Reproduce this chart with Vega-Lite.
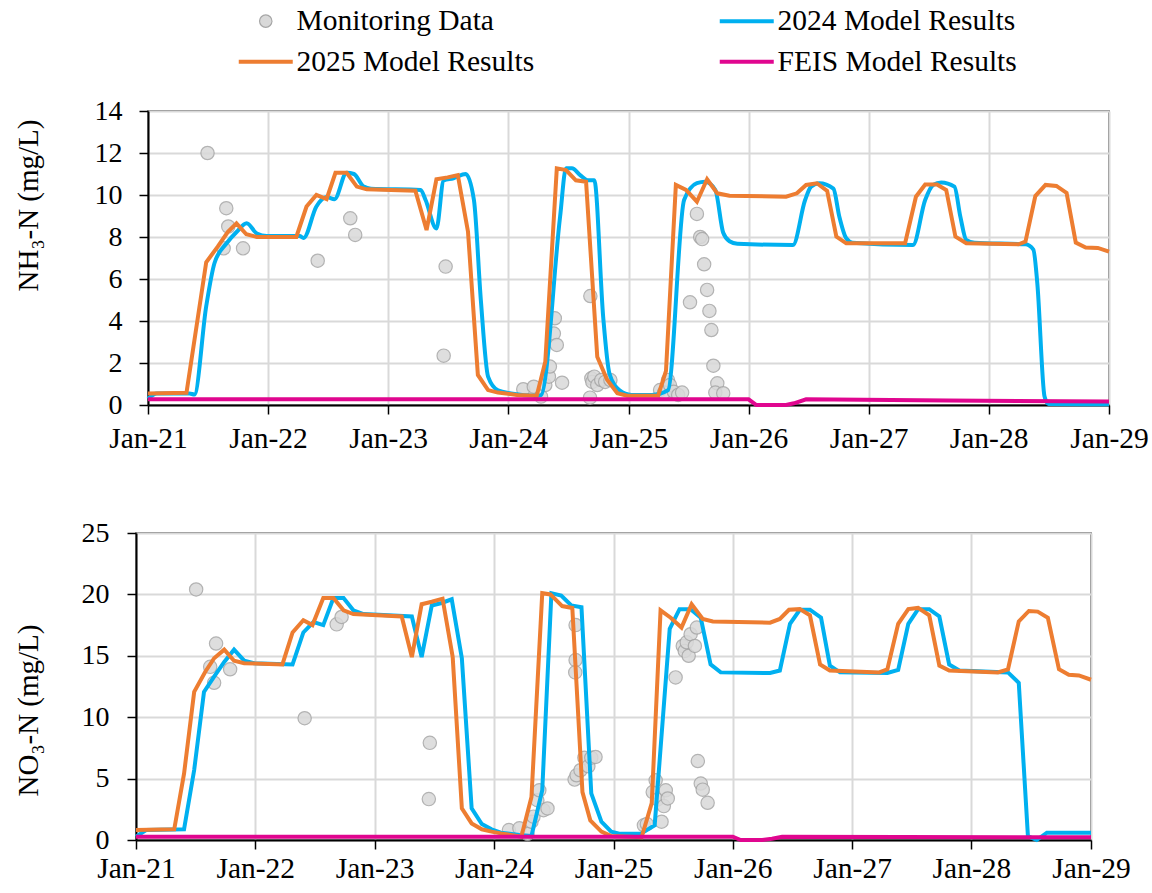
{
  "$schema": "https://vega.github.io/schema/vega-lite/v6.json",
  "padding": {"left": 6, "top": 6, "right": 0, "bottom": 0},
  "background": "white",
  "config": {
    "font": "Liberation Serif",
    "view": {"stroke": "#404040", "strokeWidth": 1.5},
    "axis": {
      "labelFont": "Liberation Serif", "labelFontSize": 28, "labelColor": "black",
      "titleFont": "Liberation Serif", "titleFontSize": 29, "titleFontWeight": "normal", "titleColor": "black",
      "domainColor": "black", "domainWidth": 2, "tickColor": "black", "tickWidth": 1.5, "tickSize": 9,
      "gridColor": "#d9d9d9", "gridWidth": 2
    },
    "legend": {"labelFont": "Liberation Serif", "labelFontSize": 29.5, "labelColor": "black", "labelLimit": 500}
  },
  "datasets": {
    "nh": [
      {"s": "2024 Model Results", "d": "2021-01-01", "v": 0.3},
      {"s": "2024 Model Results", "d": "2021-01-28", "v": 0.55},
      {"s": "2024 Model Results", "d": "2021-05-07", "v": 0.55},
      {"s": "2024 Model Results", "d": "2021-05-22", "v": 0.5},
      {"s": "2024 Model Results", "d": "2021-06-27", "v": 4.7},
      {"s": "2024 Model Results", "d": "2021-07-22", "v": 6.75},
      {"s": "2024 Model Results", "d": "2021-08-28", "v": 7.7},
      {"s": "2024 Model Results", "d": "2021-09-28", "v": 8.25},
      {"s": "2024 Model Results", "d": "2021-10-28", "v": 8.65},
      {"s": "2024 Model Results", "d": "2021-11-28", "v": 8.17},
      {"s": "2024 Model Results", "d": "2021-12-28", "v": 8.05},
      {"s": "2024 Model Results", "d": "2022-04-07", "v": 8.05},
      {"s": "2024 Model Results", "d": "2022-04-19", "v": 7.95},
      {"s": "2024 Model Results", "d": "2022-05-28", "v": 9.45},
      {"s": "2024 Model Results", "d": "2022-06-28", "v": 9.9},
      {"s": "2024 Model Results", "d": "2022-07-22", "v": 9.8},
      {"s": "2024 Model Results", "d": "2022-08-28", "v": 11.06},
      {"s": "2024 Model Results", "d": "2022-09-19", "v": 11.0},
      {"s": "2024 Model Results", "d": "2022-10-19", "v": 10.4},
      {"s": "2024 Model Results", "d": "2022-11-10", "v": 10.3},
      {"s": "2024 Model Results", "d": "2023-04-10", "v": 10.24},
      {"s": "2024 Model Results", "d": "2023-04-25", "v": 9.76},
      {"s": "2024 Model Results", "d": "2023-05-28", "v": 8.4},
      {"s": "2024 Model Results", "d": "2023-06-19", "v": 10.7},
      {"s": "2024 Model Results", "d": "2023-07-19", "v": 10.8},
      {"s": "2024 Model Results", "d": "2023-08-25", "v": 11.0},
      {"s": "2024 Model Results", "d": "2023-09-19", "v": 9.76},
      {"s": "2024 Model Results", "d": "2023-10-10", "v": 5.0},
      {"s": "2024 Model Results", "d": "2023-11-01", "v": 1.35},
      {"s": "2024 Model Results", "d": "2023-12-01", "v": 0.7},
      {"s": "2024 Model Results", "d": "2024-01-10", "v": 0.55},
      {"s": "2024 Model Results", "d": "2024-03-28", "v": 0.44},
      {"s": "2024 Model Results", "d": "2024-04-10", "v": 0.47},
      {"s": "2024 Model Results", "d": "2024-06-07", "v": 8.97},
      {"s": "2024 Model Results", "d": "2024-06-25", "v": 11.27},
      {"s": "2024 Model Results", "d": "2024-07-13", "v": 11.27},
      {"s": "2024 Model Results", "d": "2024-08-07", "v": 10.95},
      {"s": "2024 Model Results", "d": "2024-09-01", "v": 10.7},
      {"s": "2024 Model Results", "d": "2024-09-19", "v": 10.7},
      {"s": "2024 Model Results", "d": "2024-10-16", "v": 4.2},
      {"s": "2024 Model Results", "d": "2024-11-04", "v": 1.5},
      {"s": "2024 Model Results", "d": "2024-12-04", "v": 0.71},
      {"s": "2024 Model Results", "d": "2025-01-10", "v": 0.48},
      {"s": "2024 Model Results", "d": "2025-03-13", "v": 0.48},
      {"s": "2024 Model Results", "d": "2025-05-01", "v": 0.7},
      {"s": "2024 Model Results", "d": "2025-06-19", "v": 9.76},
      {"s": "2024 Model Results", "d": "2025-07-28", "v": 10.56},
      {"s": "2024 Model Results", "d": "2025-08-22", "v": 10.63},
      {"s": "2024 Model Results", "d": "2025-09-22", "v": 10.24},
      {"s": "2024 Model Results", "d": "2025-10-16", "v": 8.2},
      {"s": "2024 Model Results", "d": "2025-11-04", "v": 7.8},
      {"s": "2024 Model Results", "d": "2025-11-28", "v": 7.68},
      {"s": "2024 Model Results", "d": "2026-05-16", "v": 7.62},
      {"s": "2024 Model Results", "d": "2026-06-22", "v": 9.76},
      {"s": "2024 Model Results", "d": "2026-07-10", "v": 10.4},
      {"s": "2024 Model Results", "d": "2026-08-04", "v": 10.56},
      {"s": "2024 Model Results", "d": "2026-09-16", "v": 10.3},
      {"s": "2024 Model Results", "d": "2026-10-04", "v": 8.97},
      {"s": "2024 Model Results", "d": "2026-10-25", "v": 7.94},
      {"s": "2024 Model Results", "d": "2026-11-13", "v": 7.73},
      {"s": "2024 Model Results", "d": "2027-05-16", "v": 7.62},
      {"s": "2024 Model Results", "d": "2027-06-22", "v": 9.76},
      {"s": "2024 Model Results", "d": "2027-07-16", "v": 10.48},
      {"s": "2024 Model Results", "d": "2027-08-10", "v": 10.6},
      {"s": "2024 Model Results", "d": "2027-09-19", "v": 10.4},
      {"s": "2024 Model Results", "d": "2027-10-07", "v": 8.97},
      {"s": "2024 Model Results", "d": "2027-10-25", "v": 7.86},
      {"s": "2024 Model Results", "d": "2027-11-19", "v": 7.73},
      {"s": "2024 Model Results", "d": "2028-04-22", "v": 7.65},
      {"s": "2024 Model Results", "d": "2028-05-16", "v": 7.4},
      {"s": "2024 Model Results", "d": "2028-05-28", "v": 5.8},
      {"s": "2024 Model Results", "d": "2028-06-19", "v": 0.4},
      {"s": "2024 Model Results", "d": "2028-07-01", "v": 0.05},
      {"s": "2024 Model Results", "d": "2029-01-01", "v": 0.03},
      {"s": "2025 Model Results", "d": "2021-01-01", "v": 0.55},
      {"s": "2025 Model Results", "d": "2021-04-28", "v": 0.58},
      {"s": "2025 Model Results", "d": "2021-06-27", "v": 6.8},
      {"s": "2025 Model Results", "d": "2021-08-01", "v": 7.54},
      {"s": "2025 Model Results", "d": "2021-09-01", "v": 8.25},
      {"s": "2025 Model Results", "d": "2021-09-27", "v": 8.65},
      {"s": "2025 Model Results", "d": "2021-10-27", "v": 8.13},
      {"s": "2025 Model Results", "d": "2021-11-28", "v": 8.0},
      {"s": "2025 Model Results", "d": "2022-03-28", "v": 8.0},
      {"s": "2025 Model Results", "d": "2022-04-28", "v": 9.45},
      {"s": "2025 Model Results", "d": "2022-05-28", "v": 10.0},
      {"s": "2025 Model Results", "d": "2022-06-28", "v": 9.8},
      {"s": "2025 Model Results", "d": "2022-07-25", "v": 11.06},
      {"s": "2025 Model Results", "d": "2022-08-28", "v": 11.06},
      {"s": "2025 Model Results", "d": "2022-09-28", "v": 10.4},
      {"s": "2025 Model Results", "d": "2022-10-28", "v": 10.27},
      {"s": "2025 Model Results", "d": "2023-03-25", "v": 10.2},
      {"s": "2025 Model Results", "d": "2023-04-28", "v": 8.33},
      {"s": "2025 Model Results", "d": "2023-05-28", "v": 10.75},
      {"s": "2025 Model Results", "d": "2023-07-01", "v": 10.84},
      {"s": "2025 Model Results", "d": "2023-08-01", "v": 10.95},
      {"s": "2025 Model Results", "d": "2023-09-01", "v": 8.25},
      {"s": "2025 Model Results", "d": "2023-10-01", "v": 1.43},
      {"s": "2025 Model Results", "d": "2023-11-01", "v": 0.71},
      {"s": "2025 Model Results", "d": "2023-12-01", "v": 0.59},
      {"s": "2025 Model Results", "d": "2024-01-28", "v": 0.48},
      {"s": "2025 Model Results", "d": "2024-03-28", "v": 0.44},
      {"s": "2025 Model Results", "d": "2024-04-23", "v": 2.06},
      {"s": "2025 Model Results", "d": "2024-05-28", "v": 11.27},
      {"s": "2025 Model Results", "d": "2024-06-25", "v": 11.19},
      {"s": "2025 Model Results", "d": "2024-07-25", "v": 10.7},
      {"s": "2025 Model Results", "d": "2024-08-25", "v": 10.63},
      {"s": "2025 Model Results", "d": "2024-09-28", "v": 2.3},
      {"s": "2025 Model Results", "d": "2024-10-28", "v": 1.2},
      {"s": "2025 Model Results", "d": "2024-11-28", "v": 0.56},
      {"s": "2025 Model Results", "d": "2024-12-28", "v": 0.44},
      {"s": "2025 Model Results", "d": "2025-04-01", "v": 0.44},
      {"s": "2025 Model Results", "d": "2025-04-25", "v": 1.63},
      {"s": "2025 Model Results", "d": "2025-05-25", "v": 10.48},
      {"s": "2025 Model Results", "d": "2025-06-25", "v": 10.24},
      {"s": "2025 Model Results", "d": "2025-07-28", "v": 9.68},
      {"s": "2025 Model Results", "d": "2025-08-28", "v": 10.75},
      {"s": "2025 Model Results", "d": "2025-09-28", "v": 10.08},
      {"s": "2025 Model Results", "d": "2025-11-04", "v": 9.97},
      {"s": "2025 Model Results", "d": "2026-04-25", "v": 9.92},
      {"s": "2025 Model Results", "d": "2026-05-28", "v": 10.08},
      {"s": "2025 Model Results", "d": "2026-06-25", "v": 10.48},
      {"s": "2025 Model Results", "d": "2026-07-28", "v": 10.56},
      {"s": "2025 Model Results", "d": "2026-08-28", "v": 10.2},
      {"s": "2025 Model Results", "d": "2026-09-25", "v": 8.02},
      {"s": "2025 Model Results", "d": "2026-10-25", "v": 7.7},
      {"s": "2025 Model Results", "d": "2027-04-22", "v": 7.7},
      {"s": "2025 Model Results", "d": "2027-05-25", "v": 9.92},
      {"s": "2025 Model Results", "d": "2027-06-22", "v": 10.5},
      {"s": "2025 Model Results", "d": "2027-07-28", "v": 10.5},
      {"s": "2025 Model Results", "d": "2027-08-25", "v": 10.24},
      {"s": "2025 Model Results", "d": "2027-09-22", "v": 8.02},
      {"s": "2025 Model Results", "d": "2027-10-25", "v": 7.7},
      {"s": "2025 Model Results", "d": "2028-04-01", "v": 7.65},
      {"s": "2025 Model Results", "d": "2028-04-22", "v": 7.78},
      {"s": "2025 Model Results", "d": "2028-05-22", "v": 9.95},
      {"s": "2025 Model Results", "d": "2028-06-22", "v": 10.48},
      {"s": "2025 Model Results", "d": "2028-07-25", "v": 10.43},
      {"s": "2025 Model Results", "d": "2028-08-25", "v": 10.1},
      {"s": "2025 Model Results", "d": "2028-09-22", "v": 7.73},
      {"s": "2025 Model Results", "d": "2028-10-22", "v": 7.5},
      {"s": "2025 Model Results", "d": "2028-11-28", "v": 7.48},
      {"s": "2025 Model Results", "d": "2029-01-01", "v": 7.3},
      {"s": "FEIS Model Results", "d": "2021-01-01", "v": 0.27},
      {"s": "FEIS Model Results", "d": "2026-01-01", "v": 0.27},
      {"s": "FEIS Model Results", "d": "2026-01-25", "v": 0.0},
      {"s": "FEIS Model Results", "d": "2026-04-25", "v": 0.0},
      {"s": "FEIS Model Results", "d": "2026-05-19", "v": 0.08},
      {"s": "FEIS Model Results", "d": "2026-06-25", "v": 0.27},
      {"s": "FEIS Model Results", "d": "2027-09-01", "v": 0.21},
      {"s": "FEIS Model Results", "d": "2029-01-01", "v": 0.17}
    ],
    "nho": [
      {"d": "2021-07-01", "v": 12.0},
      {"d": "2021-08-27", "v": 9.37},
      {"d": "2021-09-02", "v": 8.5},
      {"d": "2021-08-19", "v": 7.46},
      {"d": "2021-10-17", "v": 7.46},
      {"d": "2022-06-01", "v": 6.87},
      {"d": "2022-09-08", "v": 8.89},
      {"d": "2022-09-23", "v": 8.1},
      {"d": "2023-06-25", "v": 6.59},
      {"d": "2023-06-19", "v": 2.35},
      {"d": "2024-02-16", "v": 0.75},
      {"d": "2024-03-19", "v": 0.87},
      {"d": "2024-04-10", "v": 0.4},
      {"d": "2024-04-23", "v": 0.95},
      {"d": "2024-05-04", "v": 1.35},
      {"d": "2024-05-07", "v": 1.83},
      {"d": "2024-05-19", "v": 3.4},
      {"d": "2024-05-22", "v": 4.13},
      {"d": "2024-05-28", "v": 2.86},
      {"d": "2024-06-13", "v": 1.06},
      {"d": "2024-09-07", "v": 5.19},
      {"d": "2024-09-06", "v": 0.35},
      {"d": "2024-09-10", "v": 1.27},
      {"d": "2024-09-13", "v": 1.1},
      {"d": "2024-09-19", "v": 1.35},
      {"d": "2024-09-28", "v": 0.95},
      {"d": "2024-10-10", "v": 1.19},
      {"d": "2024-10-22", "v": 1.1},
      {"d": "2024-11-07", "v": 1.19},
      {"d": "2025-04-07", "v": 0.71},
      {"d": "2025-04-19", "v": 0.59},
      {"d": "2025-05-01", "v": 1.19},
      {"d": "2025-05-07", "v": 0.95},
      {"d": "2025-05-19", "v": 0.63},
      {"d": "2025-06-01", "v": 0.48},
      {"d": "2025-06-13", "v": 0.59},
      {"d": "2025-07-07", "v": 4.89},
      {"d": "2025-07-28", "v": 9.1},
      {"d": "2025-08-07", "v": 8.0},
      {"d": "2025-08-13", "v": 7.9},
      {"d": "2025-08-19", "v": 6.7},
      {"d": "2025-08-28", "v": 5.48},
      {"d": "2025-09-04", "v": 4.48},
      {"d": "2025-09-10", "v": 3.57},
      {"d": "2025-09-16", "v": 1.87},
      {"d": "2025-09-28", "v": 1.03},
      {"d": "2025-09-22", "v": 0.59},
      {"d": "2025-10-16", "v": 0.56}
    ],
    "no": [
      {"s": "2024 Model Results", "d": "2021-01-01", "v": 0.27},
      {"s": "2024 Model Results", "d": "2021-02-01", "v": 0.81},
      {"s": "2024 Model Results", "d": "2021-05-28", "v": 0.87},
      {"s": "2024 Model Results", "d": "2021-06-28", "v": 5.7},
      {"s": "2024 Model Results", "d": "2021-07-28", "v": 12.06},
      {"s": "2024 Model Results", "d": "2021-08-28", "v": 13.3},
      {"s": "2024 Model Results", "d": "2021-09-28", "v": 14.5},
      {"s": "2024 Model Results", "d": "2021-10-28", "v": 15.5},
      {"s": "2024 Model Results", "d": "2021-11-28", "v": 14.6},
      {"s": "2024 Model Results", "d": "2021-12-28", "v": 14.4},
      {"s": "2024 Model Results", "d": "2022-04-25", "v": 14.3},
      {"s": "2024 Model Results", "d": "2022-05-28", "v": 16.9},
      {"s": "2024 Model Results", "d": "2022-06-28", "v": 17.75},
      {"s": "2024 Model Results", "d": "2022-07-28", "v": 17.5},
      {"s": "2024 Model Results", "d": "2022-08-28", "v": 19.7},
      {"s": "2024 Model Results", "d": "2022-09-28", "v": 19.7},
      {"s": "2024 Model Results", "d": "2022-10-28", "v": 18.7},
      {"s": "2024 Model Results", "d": "2022-11-28", "v": 18.4},
      {"s": "2024 Model Results", "d": "2023-04-25", "v": 18.2},
      {"s": "2024 Model Results", "d": "2023-05-25", "v": 14.9},
      {"s": "2024 Model Results", "d": "2023-06-25", "v": 19.1},
      {"s": "2024 Model Results", "d": "2023-07-25", "v": 19.3},
      {"s": "2024 Model Results", "d": "2023-08-25", "v": 19.6},
      {"s": "2024 Model Results", "d": "2023-09-25", "v": 14.8},
      {"s": "2024 Model Results", "d": "2023-10-25", "v": 2.57},
      {"s": "2024 Model Results", "d": "2023-11-25", "v": 1.3},
      {"s": "2024 Model Results", "d": "2023-12-25", "v": 0.87},
      {"s": "2024 Model Results", "d": "2024-01-22", "v": 0.6},
      {"s": "2024 Model Results", "d": "2024-03-19", "v": 0.4},
      {"s": "2024 Model Results", "d": "2024-04-25", "v": 0.32},
      {"s": "2024 Model Results", "d": "2024-05-28", "v": 4.05},
      {"s": "2024 Model Results", "d": "2024-06-25", "v": 20.1},
      {"s": "2024 Model Results", "d": "2024-07-25", "v": 19.9},
      {"s": "2024 Model Results", "d": "2024-08-25", "v": 19.1},
      {"s": "2024 Model Results", "d": "2024-09-25", "v": 18.95},
      {"s": "2024 Model Results", "d": "2024-10-25", "v": 3.8},
      {"s": "2024 Model Results", "d": "2024-11-25", "v": 1.5},
      {"s": "2024 Model Results", "d": "2024-12-25", "v": 0.68},
      {"s": "2024 Model Results", "d": "2025-01-22", "v": 0.5},
      {"s": "2024 Model Results", "d": "2025-03-25", "v": 0.5},
      {"s": "2024 Model Results", "d": "2025-05-07", "v": 1.2},
      {"s": "2024 Model Results", "d": "2025-06-22", "v": 17.2},
      {"s": "2024 Model Results", "d": "2025-07-22", "v": 18.8},
      {"s": "2024 Model Results", "d": "2025-08-25", "v": 18.8},
      {"s": "2024 Model Results", "d": "2025-09-25", "v": 18.1},
      {"s": "2024 Model Results", "d": "2025-10-25", "v": 14.3},
      {"s": "2024 Model Results", "d": "2025-11-25", "v": 13.65},
      {"s": "2024 Model Results", "d": "2026-04-25", "v": 13.6},
      {"s": "2024 Model Results", "d": "2026-05-25", "v": 13.8},
      {"s": "2024 Model Results", "d": "2026-06-25", "v": 17.6},
      {"s": "2024 Model Results", "d": "2026-07-25", "v": 18.75},
      {"s": "2024 Model Results", "d": "2026-08-25", "v": 18.75},
      {"s": "2024 Model Results", "d": "2026-09-28", "v": 18.1},
      {"s": "2024 Model Results", "d": "2026-10-25", "v": 14.2},
      {"s": "2024 Model Results", "d": "2026-11-25", "v": 13.65},
      {"s": "2024 Model Results", "d": "2027-04-19", "v": 13.6},
      {"s": "2024 Model Results", "d": "2027-05-22", "v": 13.85},
      {"s": "2024 Model Results", "d": "2027-06-22", "v": 17.6},
      {"s": "2024 Model Results", "d": "2027-07-22", "v": 18.8},
      {"s": "2024 Model Results", "d": "2027-08-25", "v": 18.8},
      {"s": "2024 Model Results", "d": "2027-09-25", "v": 18.2},
      {"s": "2024 Model Results", "d": "2027-10-25", "v": 14.3},
      {"s": "2024 Model Results", "d": "2027-11-25", "v": 13.8},
      {"s": "2024 Model Results", "d": "2028-04-22", "v": 13.65},
      {"s": "2024 Model Results", "d": "2028-05-25", "v": 12.8},
      {"s": "2024 Model Results", "d": "2028-06-22", "v": 0.32},
      {"s": "2024 Model Results", "d": "2028-07-19", "v": 0.0},
      {"s": "2024 Model Results", "d": "2028-08-19", "v": 0.6},
      {"s": "2024 Model Results", "d": "2029-01-01", "v": 0.6},
      {"s": "2025 Model Results", "d": "2021-01-01", "v": 0.81},
      {"s": "2025 Model Results", "d": "2021-04-28", "v": 0.87},
      {"s": "2025 Model Results", "d": "2021-05-28", "v": 5.4},
      {"s": "2025 Model Results", "d": "2021-06-28", "v": 12.06},
      {"s": "2025 Model Results", "d": "2021-08-01", "v": 13.7},
      {"s": "2025 Model Results", "d": "2021-08-28", "v": 14.8},
      {"s": "2025 Model Results", "d": "2021-09-28", "v": 15.5},
      {"s": "2025 Model Results", "d": "2021-10-28", "v": 14.6},
      {"s": "2025 Model Results", "d": "2021-11-28", "v": 14.4},
      {"s": "2025 Model Results", "d": "2022-03-25", "v": 14.3},
      {"s": "2025 Model Results", "d": "2022-04-25", "v": 16.9},
      {"s": "2025 Model Results", "d": "2022-05-28", "v": 17.9},
      {"s": "2025 Model Results", "d": "2022-06-25", "v": 17.5},
      {"s": "2025 Model Results", "d": "2022-07-28", "v": 19.7},
      {"s": "2025 Model Results", "d": "2022-08-28", "v": 19.7},
      {"s": "2025 Model Results", "d": "2022-09-28", "v": 18.7},
      {"s": "2025 Model Results", "d": "2022-10-28", "v": 18.4},
      {"s": "2025 Model Results", "d": "2023-03-25", "v": 18.2},
      {"s": "2025 Model Results", "d": "2023-04-25", "v": 14.9},
      {"s": "2025 Model Results", "d": "2023-05-25", "v": 19.2},
      {"s": "2025 Model Results", "d": "2023-06-25", "v": 19.4},
      {"s": "2025 Model Results", "d": "2023-07-28", "v": 19.65},
      {"s": "2025 Model Results", "d": "2023-08-28", "v": 14.9},
      {"s": "2025 Model Results", "d": "2023-09-25", "v": 2.57},
      {"s": "2025 Model Results", "d": "2023-10-25", "v": 1.35},
      {"s": "2025 Model Results", "d": "2023-11-25", "v": 0.87},
      {"s": "2025 Model Results", "d": "2023-12-25", "v": 0.68},
      {"s": "2025 Model Results", "d": "2024-01-22", "v": 0.54},
      {"s": "2025 Model Results", "d": "2024-03-25", "v": 0.27},
      {"s": "2025 Model Results", "d": "2024-04-25", "v": 3.5},
      {"s": "2025 Model Results", "d": "2024-05-28", "v": 20.1},
      {"s": "2025 Model Results", "d": "2024-06-22", "v": 20.0},
      {"s": "2025 Model Results", "d": "2024-07-28", "v": 19.05},
      {"s": "2025 Model Results", "d": "2024-08-28", "v": 18.9},
      {"s": "2025 Model Results", "d": "2024-09-28", "v": 3.9},
      {"s": "2025 Model Results", "d": "2024-10-22", "v": 1.6},
      {"s": "2025 Model Results", "d": "2024-11-25", "v": 0.68},
      {"s": "2025 Model Results", "d": "2024-12-25", "v": 0.32},
      {"s": "2025 Model Results", "d": "2025-03-28", "v": 0.22},
      {"s": "2025 Model Results", "d": "2025-04-28", "v": 3.0},
      {"s": "2025 Model Results", "d": "2025-05-25", "v": 18.7},
      {"s": "2025 Model Results", "d": "2025-06-25", "v": 18.1},
      {"s": "2025 Model Results", "d": "2025-07-28", "v": 17.3},
      {"s": "2025 Model Results", "d": "2025-08-28", "v": 19.2},
      {"s": "2025 Model Results", "d": "2025-10-01", "v": 18.0},
      {"s": "2025 Model Results", "d": "2025-11-01", "v": 17.8},
      {"s": "2025 Model Results", "d": "2026-04-25", "v": 17.7},
      {"s": "2025 Model Results", "d": "2026-05-25", "v": 18.0},
      {"s": "2025 Model Results", "d": "2026-06-22", "v": 18.75},
      {"s": "2025 Model Results", "d": "2026-07-25", "v": 18.8},
      {"s": "2025 Model Results", "d": "2026-08-25", "v": 18.3},
      {"s": "2025 Model Results", "d": "2026-09-25", "v": 14.3},
      {"s": "2025 Model Results", "d": "2026-10-25", "v": 13.8},
      {"s": "2025 Model Results", "d": "2027-03-25", "v": 13.65},
      {"s": "2025 Model Results", "d": "2027-04-19", "v": 13.9},
      {"s": "2025 Model Results", "d": "2027-05-22", "v": 17.6},
      {"s": "2025 Model Results", "d": "2027-06-22", "v": 18.8},
      {"s": "2025 Model Results", "d": "2027-07-22", "v": 18.9},
      {"s": "2025 Model Results", "d": "2027-08-25", "v": 18.3},
      {"s": "2025 Model Results", "d": "2027-09-25", "v": 14.2},
      {"s": "2025 Model Results", "d": "2027-10-25", "v": 13.8},
      {"s": "2025 Model Results", "d": "2028-03-22", "v": 13.65},
      {"s": "2025 Model Results", "d": "2028-04-22", "v": 13.9},
      {"s": "2025 Model Results", "d": "2028-05-25", "v": 17.8},
      {"s": "2025 Model Results", "d": "2028-06-25", "v": 18.65},
      {"s": "2025 Model Results", "d": "2028-07-22", "v": 18.6},
      {"s": "2025 Model Results", "d": "2028-08-22", "v": 18.1},
      {"s": "2025 Model Results", "d": "2028-09-25", "v": 13.9},
      {"s": "2025 Model Results", "d": "2028-10-25", "v": 13.45},
      {"s": "2025 Model Results", "d": "2028-11-25", "v": 13.4},
      {"s": "2025 Model Results", "d": "2029-01-01", "v": 13.05},
      {"s": "FEIS Model Results", "d": "2021-01-01", "v": 0.27},
      {"s": "FEIS Model Results", "d": "2026-01-01", "v": 0.27},
      {"s": "FEIS Model Results", "d": "2026-01-25", "v": 0.0},
      {"s": "FEIS Model Results", "d": "2026-04-01", "v": 0.0},
      {"s": "FEIS Model Results", "d": "2026-05-01", "v": 0.1},
      {"s": "FEIS Model Results", "d": "2026-06-01", "v": 0.27},
      {"s": "FEIS Model Results", "d": "2029-01-01", "v": 0.22}
    ],
    "noo": [
      {"d": "2021-07-04", "v": 20.4},
      {"d": "2021-09-03", "v": 16.0},
      {"d": "2021-08-16", "v": 14.1},
      {"d": "2021-08-28", "v": 12.8},
      {"d": "2021-10-16", "v": 13.9},
      {"d": "2022-06-01", "v": 9.92},
      {"d": "2022-09-07", "v": 17.56},
      {"d": "2022-09-22", "v": 18.16},
      {"d": "2023-06-19", "v": 7.91},
      {"d": "2023-06-16", "v": 3.33},
      {"d": "2024-02-16", "v": 0.81},
      {"d": "2024-03-19", "v": 0.95},
      {"d": "2024-04-13", "v": 0.49},
      {"d": "2024-04-25", "v": 1.49},
      {"d": "2024-05-01", "v": 1.9},
      {"d": "2024-05-13", "v": 3.24},
      {"d": "2024-05-19", "v": 4.05},
      {"d": "2024-06-01", "v": 2.43},
      {"d": "2024-06-13", "v": 2.57},
      {"d": "2024-09-07", "v": 17.5},
      {"d": "2024-09-07", "v": 14.65},
      {"d": "2024-09-06", "v": 13.65},
      {"d": "2024-09-04", "v": 4.92},
      {"d": "2024-09-10", "v": 5.27},
      {"d": "2024-09-22", "v": 5.68},
      {"d": "2024-10-04", "v": 6.7},
      {"d": "2024-10-16", "v": 6.0},
      {"d": "2024-10-25", "v": 6.7},
      {"d": "2024-11-07", "v": 6.76},
      {"d": "2025-04-04", "v": 1.2},
      {"d": "2025-04-13", "v": 1.3},
      {"d": "2025-05-01", "v": 3.9},
      {"d": "2025-05-10", "v": 4.86},
      {"d": "2025-05-16", "v": 3.3},
      {"d": "2025-05-28", "v": 1.49},
      {"d": "2025-06-04", "v": 2.76},
      {"d": "2025-06-10", "v": 4.05},
      {"d": "2025-06-16", "v": 3.38},
      {"d": "2025-07-10", "v": 13.24},
      {"d": "2025-08-01", "v": 15.8},
      {"d": "2025-08-07", "v": 15.4},
      {"d": "2025-08-13", "v": 16.1},
      {"d": "2025-08-19", "v": 15.0},
      {"d": "2025-08-25", "v": 16.76},
      {"d": "2025-09-07", "v": 15.8},
      {"d": "2025-09-13", "v": 17.3},
      {"d": "2025-09-16", "v": 6.43},
      {"d": "2025-09-25", "v": 4.6},
      {"d": "2025-10-01", "v": 4.1},
      {"d": "2025-10-16", "v": 3.03}
    ],
    "spacer": [{"a": 0}]
  },
  "spacing": 64,
  "resolve": {"scale": {"color": "shared"}},
  "vconcat": [
    {
      "spacing": 0,
      "hconcat": [
        {"width": 1, "height": 1, "data": {"name": "spacer"}, "mark": {"type": "point", "opacity": 0}, "view": {"stroke": null}},
        {
          "width": 961,
          "height": 294,
          "encoding": {
            "x": {"field": "d", "type": "temporal",
              "scale": {"domain": [{"year": 2021, "month": 1, "date": 1}, {"year": 2029, "month": 1, "date": 1}], "nice": false},
              "axis": {"title": null, "format": "%b-%y", "tickCount": {"interval": "year", "step": 1}, "labelPadding": 10, "labelFontSize": 29.5, "labelAngle": 0, "labelFlush": false, "labelOverlap": false}},
            "y": {"field": "v", "type": "quantitative",
              "scale": {"domain": [0, 14], "nice": false},
              "axis": {"title": "NH₃-N (mg/L)", "values": [0, 2, 4, 6, 8, 10, 12, 14], "labelPadding": 17, "titlePadding": 51, "titleY": 94}}
          },
          "layer": [
            {"data": {"name": "nho"}, "mark": {"type": "point", "shape": "circle", "filled": true, "size": 177, "fill": "#d9d9d9", "stroke": "#a6a6a6", "strokeWidth": 1.2, "opacity": 0.85}},
            {"data": {"name": "nh"}, "transform": [{"filter": "datum.s === '2024 Model Results'"}],
              "mark": {"type": "line", "interpolate": "monotone", "strokeWidth": 4},
              "encoding": {"color": {"field": "s", "type": "nominal",
                "scale": {"domain": ["Monitoring Data", "2025 Model Results", "2024 Model Results", "FEIS Model Results"], "range": ["#a6a6a6", "#ed7d31", "#00b0f0", "#e0068f"]},
                "legend": {"title": null, "orient": "none", "legendX": 242, "legendY": -105, "columns": 2, "columnPadding": 176, "rowPadding": 10, "padding": 0,
                  "symbolType": "stroke", "symbolSize": 2916, "symbolStrokeWidth": 4, "labelOffset": 16, "labelFontSize": 29.5, "labelLimit": 500,
                  "encode": {"symbols": {"update": {
                    "shape": {"signal": "datum.value === 'Monitoring Data' ? 'circle' : 'stroke'"},
                    "size": {"signal": "datum.value === 'Monitoring Data' ? 154 : 2916"},
                    "fill": {"signal": "datum.value === 'Monitoring Data' ? '#d9d9d9' : 'transparent'"},
                    "strokeWidth": {"signal": "datum.value === 'Monitoring Data' ? 1.2 : 4"}
                  }}}}}}},
            {"data": {"name": "nh"}, "transform": [{"filter": "datum.s !== '2024 Model Results'"}],
              "mark": {"type": "line", "strokeWidth": 4},
              "encoding": {"color": {"field": "s", "type": "nominal"}}}
          ]
        }
      ]
    },
    {
      "spacing": 0,
      "hconcat": [
        {"width": 1, "height": 1, "data": {"name": "spacer"}, "mark": {"type": "point", "opacity": 0}, "view": {"stroke": null}},
        {
          "width": 955,
          "height": 307,
          "encoding": {
            "x": {"field": "d", "type": "temporal",
              "scale": {"domain": [{"year": 2021, "month": 1, "date": 1}, {"year": 2029, "month": 1, "date": 1}], "nice": false},
              "axis": {"title": null, "format": "%b-%y", "tickCount": {"interval": "year", "step": 1}, "labelPadding": 5, "labelFontSize": 29.5, "labelAngle": 0, "labelFlush": false, "labelOverlap": false}},
            "y": {"field": "v", "type": "quantitative",
              "scale": {"domain": [0, 25], "nice": false},
              "axis": {"title": "NO₃-N (mg/L)", "values": [0, 5, 10, 15, 20, 25], "labelPadding": 18, "titlePadding": 38, "titleY": 177}}
          },
          "layer": [
            {"data": {"name": "noo"}, "mark": {"type": "point", "shape": "circle", "filled": true, "size": 177, "fill": "#d9d9d9", "stroke": "#a6a6a6", "strokeWidth": 1.2, "opacity": 0.85}},
            {"data": {"name": "no"}, "transform": [{"filter": "datum.s === '2024 Model Results'"}],
              "mark": {"type": "line", "strokeWidth": 4},
              "encoding": {"color": {"field": "s", "type": "nominal"}}},
            {"data": {"name": "no"}, "transform": [{"filter": "datum.s !== '2024 Model Results'"}],
              "mark": {"type": "line", "strokeWidth": 4},
              "encoding": {"color": {"field": "s", "type": "nominal"}}}
          ]
        }
      ]
    }
  ]
}
